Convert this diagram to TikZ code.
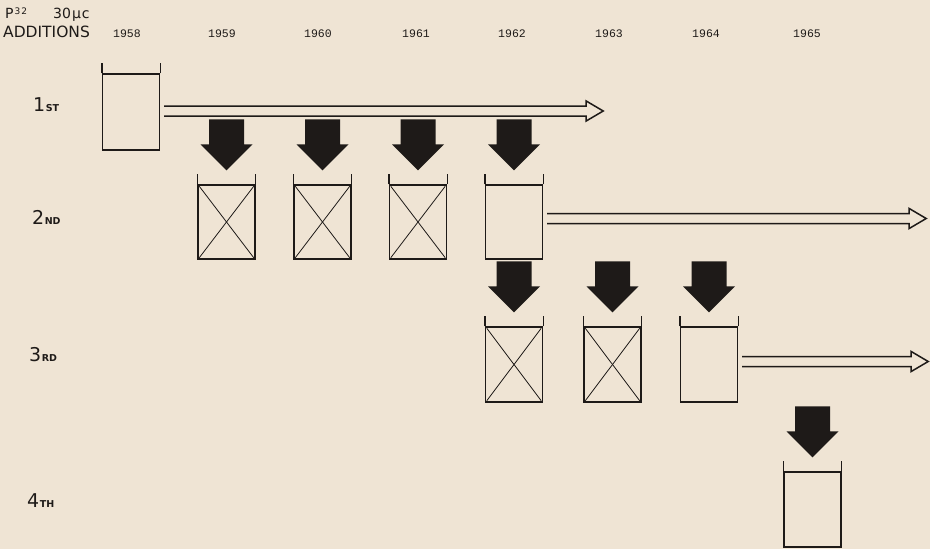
\documentclass[tikz,border=0pt]{standalone}
\usepackage{fontspec}
\newfontfamily\lettering{DejaVu Sans}
\newfontfamily\typer{Liberation Mono}
\usetikzlibrary{calc,positioning}
\definecolor{paper}{RGB}{239,228,212}
\definecolor{ink}{RGB}{30,26,24}

\begin{document}
\begin{tikzpicture}[x=1pt, y=-1pt,
 beaker/.style={draw=ink, line width=1.4pt, minimum width=57pt, minimum height=75pt, inner sep=0pt},
 sides/.style={draw=ink, line width=1.4pt},
 cross/.style={draw=ink, line width=0.8pt},
 openarrow/.style={draw=ink, line width=1.5pt, line join=miter},
 yearlabel/.style={font=\typer\fontsize{11.5}{11.5}\selectfont, text=ink, anchor=base, inner sep=0pt},
 rowlabel/.style={font=\lettering\fontsize{19}{19}\selectfont, text=ink, anchor=base west, inner sep=0pt},
 titlelabel/.style={text=ink, anchor=base west, inner sep=0pt}]
    % paper and frame
    \fill[paper] (0,0) rectangle (930,549);
    \useasboundingbox (0,0) rectangle (930,549);

    % title top left
    \node[titlelabel, font=\lettering\fontsize{14}{14}\selectfont] (ptitle) at (5,18)
        {P\raisebox{4pt}{\fontsize{9}{9}\selectfont\kern1pt 3\kern1pt 2}};
    \node[titlelabel, font=\lettering\fontsize{14}{14}\selectfont] (dose) at (53,18) {30\kern1pt μ\kern1pt c};
    \node[titlelabel, font=\lettering\fontsize{15.5}{15.5}\selectfont] (additions) at (3,37) {ADDITIONS};

    % years along the top
    \foreach \yr/\xx in {1958/127, 1959/222, 1960/318, 1961/416, 1962/512, 1963/609, 1964/706, 1965/807}
        \node[yearlabel] (y\yr) at (\xx,37) {\yr};

    % row labels: 1st ... 4th
    \newcommand{\sm}[1]{\hspace{0.5pt}{\fontsize{9.5}{9.5}\selectfont\bfseries #1}}
    \node[rowlabel] (r1) at (33,111) {1\sm{ST}};
    \node[rowlabel] (r2) at (32,224) {2\sm{ND}};
    \node[rowlabel] (r3) at (29,361) {3\sm{RD}};
    \node[rowlabel] (r4) at (27,507) {4\sm{TH}};

    % beakers
    \node[beaker, minimum height=76pt] (b1) at (131,112) {};
    \foreach \n/\xx in {1/226.5, 2/322.5, 3/418, 4/514}
        \node[beaker, minimum height=74pt] (b2\n) at (\xx,222) {};
    \foreach \n/\xx in {1/514, 2/612.5, 3/709}
        \node[beaker] (b3\n) at (\xx,364.5) {};
    \node[beaker] (b41) at (812.5,509.5) {};

    % sides sticking up over the rim
    \foreach \b in {b1,b21,b22,b23,b24,b31,b32,b33,b41} {
        \draw[sides] (\b.north west) -- ++(0,-10);
        \draw[sides] (\b.north east) -- ++(0,-10);
    }

    % crossed out ones
    \foreach \b in {b21,b22,b23,b31,b32} {
        \draw[cross] ($(\b.north west)+(2,2)$) -- ($(\b.south east)+(-2,-2)$);
        \draw[cross] ($(\b.north east)+(-2,2)$) -- ($(\b.south west)+(2,-2)$);
    }

    % black arrows: additions into each beaker
    \foreach \b in {b21,b22,b23,b24,b31,b32,b33,b41}
        \fill[ink] ($(\b.north)+(0,-14)$) -- ++(-26,-26) -- ++(8.5,0) -- ++(0,-25)
            -- ++(35,0) -- ++(0,25) -- ++(8.5,0) -- cycle;

    % open arrows: beaker kept going
    \foreach \b/\dy/\len in {b1/1/439, b24/3.5/379, b33/3/186} {
        \path (\b.east) ++(4,-\dy) coordinate (s\b) ++(\len,0) coordinate (t\b);
        \draw[openarrow] ($(s\b)+(0,-5)$) -- ($(t\b)+(-17,-5)$) -- ($(t\b)+(-17,-10)$) -- (t\b)
            -- ($(t\b)+(-17,10)$) -- ($(t\b)+(-17,5)$) -- ($(s\b)+(0,5)$);
    }

\end{tikzpicture}
\end{document}
